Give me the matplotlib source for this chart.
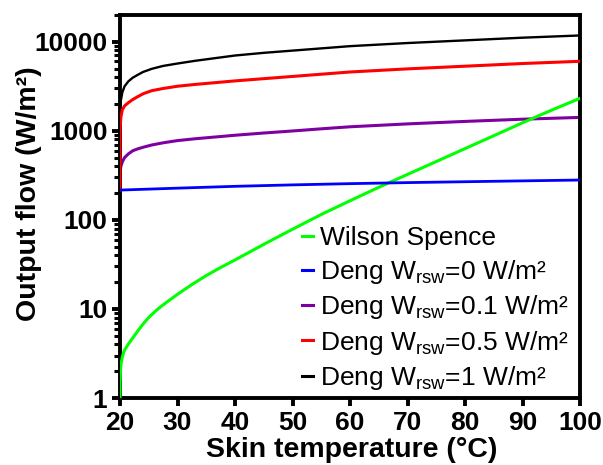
import numpy as np
import matplotlib
matplotlib.use("Agg")
import matplotlib.pyplot as plt
from matplotlib.ticker import FixedLocator, FixedFormatter, LogLocator, NullFormatter

# Datos
t_wilson = [20, 20.02, 20.1, 20.2, 20.4, 20.7, 21, 21.45, 22, 23, 24, 25, 26.5,
            28, 30, 32.5, 35, 37.5, 40, 43, 46, 50, 55, 60, 65, 70, 75, 80,
            85, 90, 95, 100]
q_wilson = [1, 1.51, 2.09, 2.45, 2.88, 3.35, 3.63, 4.03, 4.52, 5.56, 6.76, 8.04,
            9.89, 11.75, 14.6, 18.8, 23.7, 29.2, 35.5, 45.2, 57.5, 78.5, 115,
            164, 232, 324, 452, 631, 881, 1230, 1700, 2317]

t_w0 = [20, 30, 40, 50, 60, 70, 80, 90, 100]
q_w0 = [216, 227, 238, 247, 255, 262, 268, 274, 280]

t_deng = [20, 20.01, 20.05, 20.15, 20.4, 20.8, 21.45, 22.2, 23, 24, 25.5, 27.5,
          30, 33, 36.5, 40, 45, 50, 55, 60, 70, 80, 90, 100]
q_w01 = [216, 282, 355, 398, 447, 501, 550, 596, 624, 653, 692, 733,
         776, 813, 851, 891, 944, 995, 1052, 1109, 1195, 1274, 1349, 1413]
q_w05 = [216, 891, 1175, 1413, 1718, 1905, 2065, 2239, 2399, 2600, 2818, 2985,
         3162, 3311, 3467, 3631, 3846, 4074, 4315, 4571, 4955, 5309, 5689, 6026]
q_w1 = [216, 1259, 1778, 2188, 2692, 3162, 3589, 3936, 4217, 4571, 4955, 5346,
        5689, 6095, 6531, 6998, 7499, 7943, 8414, 8913, 9661, 10351, 11092, 11749]

y_ticks = [1, 10, 100, 1000, 10000]
y_labels = ["1", "10", "100", "1000", "10000"]
x_ticks = [20, 30, 40, 50, 60, 70, 80, 90, 100]

plt.rcParams['font.family'] = ['Liberation Sans', 'DejaVu Sans']
plt.rcParams['mathtext.fontset'] = 'custom'
plt.rcParams['mathtext.rm'] = 'Liberation Sans'
plt.rcParams['mathtext.it'] = 'Liberation Sans'

fig = plt.figure(figsize=(6.03, 4.65), dpi=100)
ax = fig.add_axes([0.199, 0.144, 0.763, 0.824])

ax.plot(t_wilson, q_wilson, color='#00ff00', lw=2.2, zorder=3,
        label='Wilson Spence')
ax.plot(t_w0, q_w0, color='#0000ff', lw=2.0, zorder=4,
        label='Deng W$_{\\rm rsw}$=0 W/m²')
ax.plot(t_deng, q_w01, color='#7f00a0', lw=2.2, zorder=2,
        label='Deng W$_{\\rm rsw}$=0.1 W/m²')
ax.plot(t_deng, q_w05, color='#ff0000', lw=2.2, zorder=3,
        label='Deng W$_{\\rm rsw}$=0.5 W/m²')
ax.plot(t_deng, q_w1, color='black', lw=1.7, zorder=2,
        label='Deng W$_{\\rm rsw}$=1 W/m²')

ax.set_yscale('log')
ax.set_xlim(20, 100)
ax.set_ylim(1, 20000)
ax.yaxis.set_major_locator(FixedLocator(y_ticks))
ax.yaxis.set_major_formatter(FixedFormatter(y_labels))
ax.yaxis.set_minor_locator(LogLocator(base=10, subs=np.arange(2, 10)))
ax.yaxis.set_minor_formatter(NullFormatter())
ax.set_xticks(x_ticks)

# Ejes gruesos estilo Prism
for s in ax.spines.values():
    s.set_linewidth(2.8)
ax.tick_params(axis='both', which='major', direction='out', length=6,
               width=2.8, labelsize=19, pad=3)
ax.tick_params(axis='y', which='minor', direction='out', length=4, width=2.2)
for lab in ax.get_xticklabels() + ax.get_yticklabels():
    lab.set_fontweight('bold')

ax.set_xlabel('Skin temperature (°C)', fontsize=20.5, fontweight='bold', va='top')
ax.xaxis.set_label_coords(0.504, -0.102)
ax.set_ylabel('Output flow (W/m²)', fontsize=20.5, fontweight='bold')
ax.yaxis.set_label_coords(-0.17, 0.533)

leg = ax.legend(loc='center left', bbox_to_anchor=(0.396, 0.232), frameon=False,
                fontsize=19, handlelength=0.42, handletextpad=0.27,
                labelspacing=0.28, borderpad=0, borderaxespad=0)
for h in leg.get_lines():
    h.set_linewidth(2.2)

fig.savefig('out.png', dpi=100)
